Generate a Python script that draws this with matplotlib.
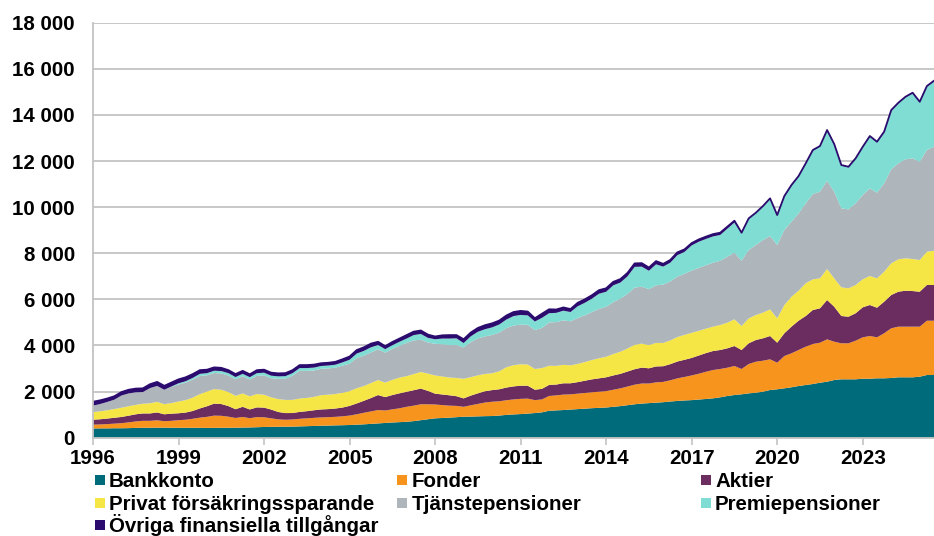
import numpy as np
import pandas as pd
import matplotlib
matplotlib.use("Agg")
import matplotlib.pyplot as plt
from matplotlib.patches import Rectangle
from matplotlib.ticker import FuncFormatter

plt.rcParams['font.family'] = ['Liberation Sans', 'DejaVu Sans']
plt.rcParams['font.weight'] = 'bold'

# ---------------- data (quarterly, 1996Q1 - 2025Q3, SEK billion) ----------------
quarters = pd.period_range('1996Q1', '2025Q3', freq='Q')

bankkonto = [
    400, 405, 405, 410,   410, 415, 425, 432,   432, 435, 435, 432,   430, 430, 430, 430,
    425, 428, 430, 432,   435, 440, 445, 455,   465, 470, 475, 478,   480, 490, 500, 510,
    520, 525, 535, 542,   550, 565, 580, 600,   620, 640, 660, 675,   690, 720, 760, 800,
    840, 855, 870, 890,   910, 915, 925, 935,   940, 960, 990, 1010,  1025, 1045, 1070, 1100,
    1170, 1185, 1200, 1220, 1240, 1260, 1280, 1295, 1310, 1340, 1370, 1410, 1450, 1480, 1500, 1520,
    1540, 1570, 1595, 1615, 1630, 1655, 1680, 1707, 1752, 1808, 1852, 1882, 1924, 1952, 1995, 2069,
    2099, 2142, 2186, 2242, 2286, 2329, 2385, 2429, 2502, 2533, 2533, 2533, 2559, 2559, 2576, 2576,
    2590, 2619, 2619, 2619, 2646, 2719, 2719]

fonder = [
    165, 170, 185, 200,   220, 250, 280, 300,   300, 320, 280, 300,   330, 350, 390, 440,
    480, 530, 520, 480,   420, 460, 400, 440,   420, 370, 320, 300,   310, 330, 340, 350,
    360, 365, 370, 385,   410, 450, 500, 540,   580, 540, 570, 600,   650, 670, 690, 650,
    600, 560, 520, 490,   430, 490, 540, 590,   620, 620, 635, 650,   660, 650, 560, 560,
    640, 650, 670, 660,   670, 680, 690, 700,   710, 740, 770, 810,   850, 870, 850, 880,
    880, 920, 980, 1020,  1070, 1120, 1180, 1229, 1228, 1228, 1258, 1098, 1272, 1344, 1345, 1331,
    1154, 1401, 1474, 1562, 1661, 1735, 1735, 1838, 1662, 1561, 1561, 1674, 1795, 1852, 1778, 1952,
    2155, 2197, 2197, 2197, 2170, 2355, 2355]

aktier = [
    215, 225, 240, 255,   270, 290, 310, 320,   320, 340, 300, 310,   300, 310, 340, 400,
    460, 520, 510, 460,   380, 440, 380, 420,   420, 380, 320, 290,   280, 300, 310, 330,
    345, 350, 360, 380,   420, 470, 520, 580,   650, 580, 620, 650,   650, 670, 680, 580,
    470, 460, 450, 420,   365, 420, 460, 490,   505, 520, 550, 565,   570, 560, 450, 460,
    480, 470, 490, 480,   500, 530, 560, 580,   600, 620, 630, 650,   670, 690, 660, 690,
    680, 700, 730, 745,   760, 790, 810, 824,   824, 841, 867, 824,   898, 941, 971, 1011,
    867, 985, 1156, 1270, 1331, 1474, 1492, 1705, 1518, 1184, 1154, 1188, 1301, 1344, 1284, 1370,
    1444, 1516, 1560, 1545, 1516, 1549, 1549]

privat = [
    330, 345, 360, 380,   400, 410, 410, 420,   440, 460, 440, 460,   510, 540, 580, 620,
    640, 630, 620, 610,   580, 580, 570, 580,   560, 530, 560, 570,   570, 580, 575, 580,
    620, 625, 630, 640,   640, 660, 640, 650,   650, 630, 660, 680,   680, 700, 720, 750,
    790, 780, 770, 790,   850, 800, 780, 750,   730, 780, 880, 920,   930, 920, 900, 900,
    830, 810, 800, 780,   790, 810, 840, 870,   890, 930, 960, 1000,  1060, 1040, 1010, 1020,
    1010, 1030, 1060, 1080, 1090, 1070, 1060, 1056, 1084, 1112, 1157, 1041, 1083, 1084, 1112, 1156,
    1057, 1227, 1299, 1302, 1420, 1330, 1300, 1344, 1230, 1244, 1230, 1228, 1214, 1257, 1274, 1302,
    1374, 1405, 1404, 1389, 1375, 1444, 1487]

tjanste = [
    280, 315, 360, 405,   530, 555, 545, 508,   658, 690, 625, 698,   740, 760, 785, 790,
    700, 697, 710, 718,   720, 745, 730, 790,   840, 830, 880, 922,   1050, 1200, 1175, 1145,
    1145, 1140, 1140, 1180, 1190, 1310, 1320, 1330, 1330, 1300, 1340, 1380, 1440, 1460, 1400, 1350,
    1370, 1400, 1410, 1430, 1360, 1520, 1600, 1630, 1660, 1680, 1700, 1720, 1720, 1720, 1690, 1740,
    1880, 1900, 1930, 1910, 1990, 2030, 2080, 2140, 2170, 2250, 2300, 2370, 2480, 2470, 2420, 2500,
    2530, 2560, 2620, 2650, 2700, 2730, 2750, 2774, 2789, 2861, 2890, 2832, 2964, 3036, 3151, 3181,
    3180, 3253, 3254, 3354, 3466, 3701, 3758, 3830, 3758, 3425, 3426, 3541, 3657, 3803, 3715, 3831,
    4078, 4164, 4295, 4367, 4263, 4411, 4510]

premie = [
    0, 0, 0, 0,           0, 0, 0, 0,           0, 0, 0, 20,          50, 60, 70, 90,
    95, 100, 100, 100,    95, 105, 100, 115,    115, 110, 105, 110,   110, 120, 120, 125,
    120, 125, 130, 140,   170, 195, 205, 220,   190, 150, 160, 175,   190, 230, 250, 200,
    200, 245, 280, 290,   190, 250, 290, 310,   330, 350, 370, 410,   420, 410, 370, 440,
    400, 400, 420, 400,   510, 540, 580, 660,   650, 730, 700, 760,   900, 870, 800, 910,
    780, 810, 935, 950,   1090, 1135, 1140, 1140, 1115, 1212, 1308, 1190, 1348, 1376, 1450, 1609,
    1276, 1449, 1566, 1595, 1712, 1884, 1956, 2174, 2043, 1855, 1824, 1928, 2069, 2245, 2186, 2215,
    2546, 2603, 2689, 2821, 2577, 2750, 2838]

ovriga = [
    170, 160, 150, 150,   150, 160, 160, 160,   170, 175, 170, 170,   170, 170, 165, 160,
    150, 145, 140, 130,   130, 130, 125, 130,   130, 130, 130, 130,   130, 130, 130, 130,
    120, 120, 125, 133,   140, 150, 155, 160,   140, 130, 140, 140,   150, 150, 150, 140,
    120, 140, 150, 140,   165, 165, 165, 175,   175, 170, 175, 175,   175, 165, 140, 180,
    170, 145, 140, 130,   150, 150, 150, 155,   150, 150, 150, 150,   150, 150, 140, 140,
    120, 120, 120, 110,   100, 100, 100, 100,   100, 90, 80, 25,     25, 25, 25, 25,
    25, 25, 25, 25,       25, 25, 25, 25,       25, 25, 25, 25,       25, 25, 25, 25,
    25, 25, 25, 25,       25, 25, 25]

series_names = ['Bankkonto', 'Fonder', 'Aktier', 'Privat försäkringssparande',
                'Tjänstepensioner', 'Premiepensioner', 'Övriga finansiella tillgångar']
colors = ['#006C7B', '#F7941E', '#6B2C5F', '#F5E646', '#AEB6BC', '#7FDDD3', '#2B0C6E']

x_tick_years = [1996, 1999, 2002, 2005, 2008, 2011, 2014, 2017, 2020, 2023]
y_ticks = [0, 2000, 4000, 6000, 8000, 10000, 12000, 14000, 16000, 18000]

# ---------------- plotting ----------------
x = quarters.year + (quarters.quarter - 1) / 4.0
data = np.array([bankkonto, fonder, aktier, privat, tjanste, premie, ovriga], dtype=float)

W, H = 934, 536
fig = plt.figure(figsize=(W / 100, H / 100), dpi=100)
ax = fig.add_axes([93 / W, (H - 437.7) / H, (W - 93) / W, 415 / H])

ax.stackplot(x, data, colors=colors, linewidth=0, zorder=2)
ax.plot(x, data.sum(axis=0), color=colors[-1], lw=1.3, zorder=3, solid_joinstyle='round')

ax.set_xlim(1996, 2025.5)
ax.set_ylim(0, 18000)
ax.set_yticks(y_ticks)
ax.yaxis.set_major_formatter(FuncFormatter(lambda v, p: f"{v:,.0f}".replace(",", " ")))
ax.set_xticks(x_tick_years)
ax.set_xticklabels([str(y) for y in x_tick_years])

grid_c = '#C3C3C3'
ax.grid(axis='y', color=grid_c, lw=1.3, zorder=1)
ax.set_axisbelow(True)
for s in ['top', 'right']:
    ax.spines[s].set_visible(False)
for s in ['left', 'bottom']:
    ax.spines[s].set_color(grid_c)
    ax.spines[s].set_linewidth(1.3)
    ax.spines[s].set_zorder(4)

ax.tick_params(axis='y', length=0, pad=13, labelsize=14.8, labelcolor='black')
ax.tick_params(axis='x', length=5, width=1.2, color=grid_c, pad=3, labelsize=14.8, labelcolor='black')
for lab in ax.get_xticklabels() + ax.get_yticklabels():
    lab.set_fontweight('bold')

# ---------------- legend (3 columns, below plot) ----------------
col_marker_x = [95, 397, 701]
col_text_x = [109, 412, 715]
row_baseline = [487, 509.5, 532]
layout = [(0, 0), (0, 1), (0, 2), (1, 0), (1, 1), (1, 2), (2, 0)]  # (row, col)
for name, c, (r, cl) in zip(series_names, colors, layout):
    yb = row_baseline[r]
    fig.add_artist(Rectangle((col_marker_x[cl] / W, 1 - (yb - 2) / H), 10 / W, 10 / H,
                             transform=fig.transFigure, facecolor=c, edgecolor='none'))
    fig.text(col_text_x[cl] / W, 1 - yb / H, name, fontsize=14.8, fontweight='bold',
             va='baseline', ha='left', color='black')

fig.savefig('out.png', dpi=100)
